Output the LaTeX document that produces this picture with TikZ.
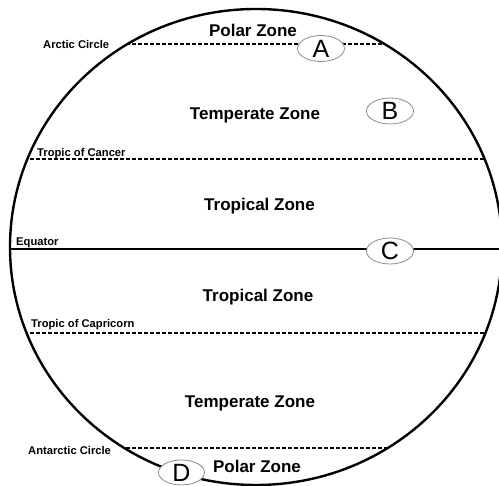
\documentclass[tikz,border=0pt]{standalone}
\usepackage{fontspec}
\setmainfont{Liberation Sans}
\usetikzlibrary{shapes.geometric}
\tikzset{
  zone/.style={font=\bfseries\fontsize{17}{20}\selectfont, anchor=base, inner sep=0pt},
  latlabel/.style={font=\bfseries\fontsize{11.2}{12}\selectfont, anchor=base west, inner sep=0pt},
  letter/.style={ellipse, draw=black!45, line width=0.8pt, fill=white, minimum width=47pt, minimum height=26pt, inner sep=0pt, font=\fontsize{25}{25}\selectfont},
  latline/.style={line width=1.4pt, dash pattern=on 3.5pt off 2.5pt},
  globe/.style={line width=2.4pt},
}
\begin{document}
\begin{tikzpicture}[x=1pt,y=-1pt]
\useasboundingbox (0,0) rectangle (499,486);
\begin{scope}
  \clip (256,247) ellipse [x radius=246, y radius=238];
  \draw[latline] (0,44) -- (499,44);
  \draw[latline] (0,159) -- (499,159);
  \draw[latline] (0,333) -- (499,333);
  \draw[latline] (0,448) -- (499,448);
\end{scope}
\draw[globe] (256,247) ellipse [x radius=246, y radius=238];
\coordinate (eqL) at (10,249);
\coordinate (eqR) at (499,249);
\draw[line width=2pt] (eqL) -- (eqR);

\node[zone] (polarN) at (253,37) {Polar Zone};
\node[zone] (tempN) at (255,120) {Temperate Zone};
\node[zone] (tropN) at (259.5,211) {Tropical Zone};
\node[zone] (tropS) at (258,302) {Tropical Zone};
\node[zone] (tempS) at (250,408) {Temperate Zone};
\node[zone] (polarS) at (257,473) {Polar Zone};

\node[latlabel] (arctic) at (43,49) {Arctic Circle};
\node[latlabel] (cancer) at (37,157) {Tropic of Cancer};
\node[latlabel] (equator) at (16,246) {Equator};
\node[latlabel] (capricorn) at (31,328) {Tropic of Capricorn};
\node[latlabel] (antarctic) at (28,455) {Antarctic Circle};

\node[letter] (A) at (321,48.5) {A};
\node[letter] (B) at (390,111) {B};
\node[letter] (C) at (390,251) {C};
\node[letter, minimum width=46pt, minimum height=25pt] (D) at (181.5,472.5) {D};
\end{tikzpicture}
\end{document}
